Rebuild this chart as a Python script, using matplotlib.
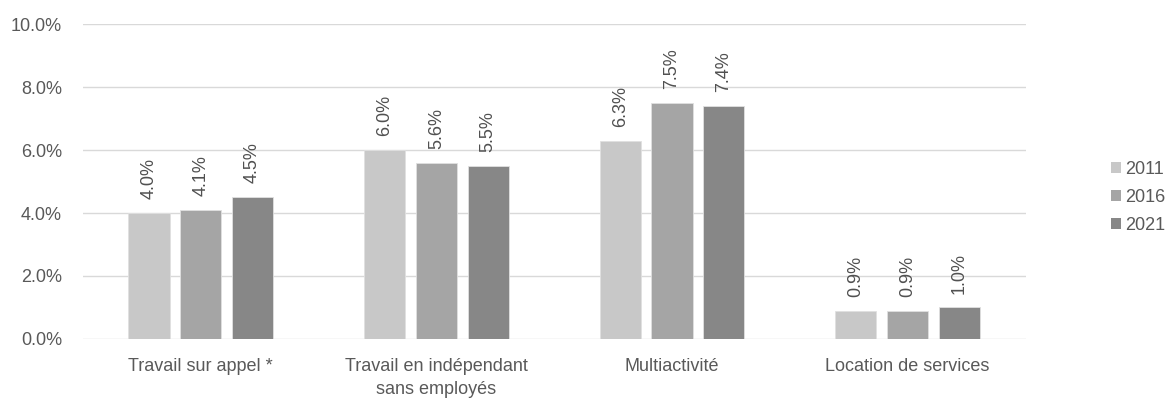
import matplotlib
matplotlib.use("Agg")
import matplotlib.pyplot as plt
import numpy as np
from matplotlib.patches import Patch

categories = ["Travail sur appel *", "Travail en indépendant\nsans employés", "Multiactivité", "Location de services"]
years = ["2011", "2016", "2021"]
v2011 = [4.0, 6.0, 6.3, 0.9]
v2016 = [4.1, 5.6, 7.5, 0.9]
v2021 = [4.5, 5.5, 7.4, 1.0]
colors = ["#C8C8C8", "#A5A5A5", "#878787"]

plt.rcParams['font.family'] = ['Liberation Sans', 'DejaVu Sans']
FS = 13

fig = plt.figure(figsize=(11.68, 4.03), dpi=100)
ax = fig.add_axes([0.071, 0.159, 0.807, 0.781])

x = np.arange(len(categories))
w = 0.175
step = 0.22
series = [v2011, v2016, v2021]
for i, (vals, c, yr) in enumerate(zip(series, colors, years)):
    pos = x + (i - 1) * step
    bars = ax.bar(pos, vals, width=w, color=c, edgecolor="#E0E0E0", linewidth=0.6, label=yr, zorder=3)
    for b, v in zip(bars, vals):
        ax.annotate(f"{v:.1f}%", (b.get_x() + b.get_width() / 2, v), xytext=(0, 10),
                    textcoords="offset points", rotation=90, ha="center", va="bottom",
                    fontsize=FS, color="#505050")

ax.set_xlim(-0.5, len(categories) - 0.5)
ax.set_ylim(0, 10)
ax.set_yticks(np.arange(0, 10.01, 2))
ax.set_yticklabels([f"{t:.1f}%" for t in np.arange(0, 10.01, 2)])
ax.set_xticks(x)
ax.set_xticklabels(categories, linespacing=1.45)
ax.grid(axis="y", color="#D9D9D9", linewidth=1, zorder=0)
for s in ["top", "right", "left", "bottom"]:
    ax.spines[s].set_visible(False)
ax.tick_params(axis="both", length=0, labelsize=FS, labelcolor="#595959")
ax.tick_params(axis="y", pad=15)
ax.tick_params(axis="x", pad=14)

handles = [Patch(facecolor=c, edgecolor="none") for c in colors]
fig.legend(handles, years, loc="center left", bbox_to_anchor=(0.951, 0.51), frameon=False,
           fontsize=FS, labelcolor="#595959", handlelength=0.55, handleheight=0.55,
           handletextpad=0.25, labelspacing=0.62, borderpad=0, borderaxespad=0)

fig.savefig("out.png", dpi=100)
